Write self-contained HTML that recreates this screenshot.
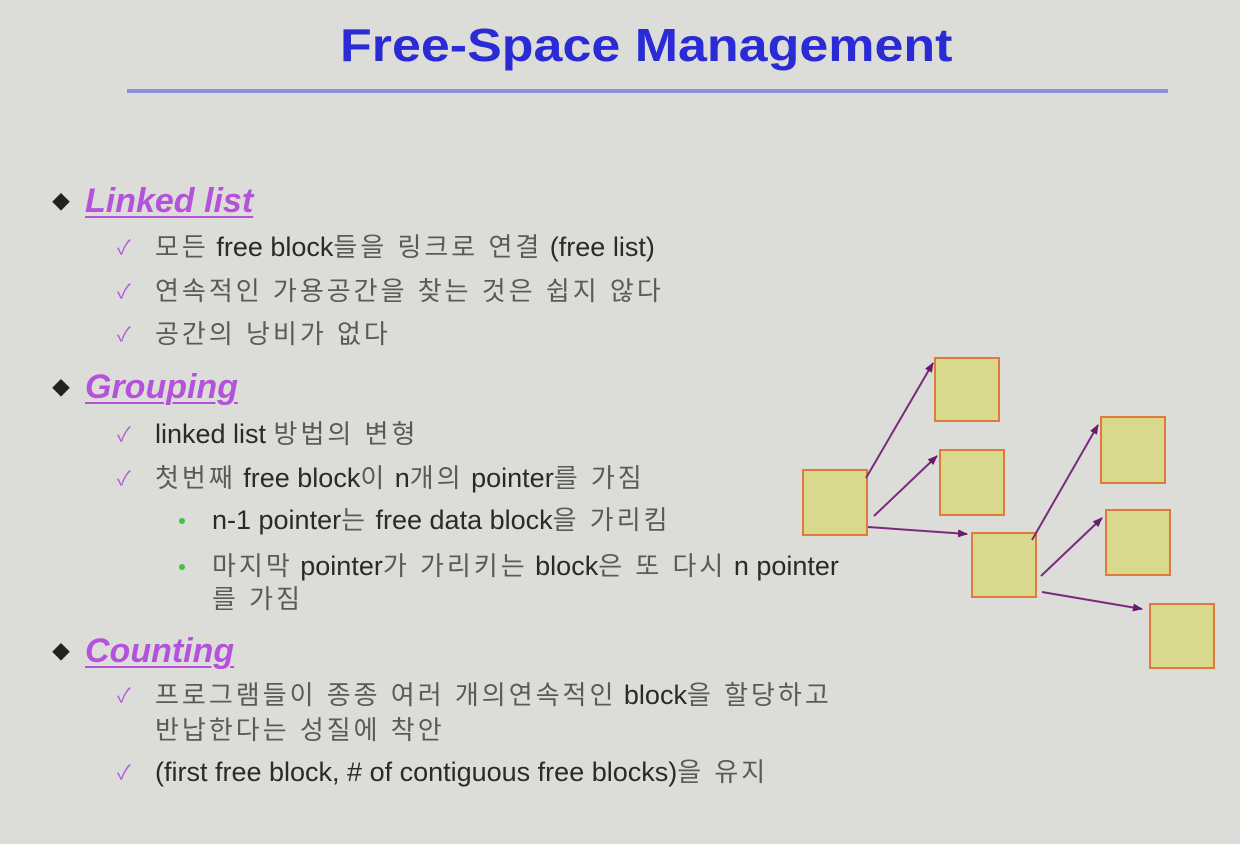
<!DOCTYPE html>
<html><head><meta charset="utf-8"><style>
body{margin:0;width:1240px;height:844px;background:#dcdcd8;position:relative;overflow:hidden;font-family:"Liberation Sans","Noto Sans CJK KR",sans-serif;}
.t{position:absolute;white-space:nowrap;line-height:1;}
.title{left:340px;top:22px;font-size:46px;font-weight:bold;color:#2b2bd6;transform-origin:left top;transform:scaleX(1.13);}
.h{font-size:34px;font-weight:bold;font-style:italic;color:#b552dc;text-decoration:underline;text-decoration-thickness:2px;text-underline-offset:4px;}
.i{font-size:27px;color:#2a2a2a;}
.i .k{color:#5a5a5a;letter-spacing:3px;font-size:26px;}
.ck{position:absolute;font-size:20px;color:#b060d0;line-height:1;}
.dot{position:absolute;width:6px;height:6px;border-radius:3px;background:#44c044;}
.dia{position:absolute;font-size:18px;color:#222;line-height:1;}
</style></head><body>
<div class="t title">Free-Space Management</div>
<div style="position:absolute;left:127px;top:89px;width:1041px;height:4px;background:#8d8fd8"></div>

<div class="dia" style="left:52px;top:194px">◆</div>
<div class="t h" style="left:85px;top:184px">Linked list</div>
<div class="ck" style="left:117px;top:238px">✓</div><div class="t i" style="left:155px;top:234px"><span class="k">모든</span> free block<span class="k">들을 링크로 연결</span> (free list)</div>
<div class="ck" style="left:117px;top:282px">✓</div><div class="t i" style="left:155px;top:278px"><span class="k">연속적인 가용공간을 찾는 것은 쉽지 않다</span></div>
<div class="ck" style="left:117px;top:325px">✓</div><div class="t i" style="left:155px;top:321px"><span class="k">공간의 낭비가 없다</span></div>

<div class="dia" style="left:52px;top:380px">◆</div>
<div class="t h" style="left:85px;top:370px">Grouping</div>
<div class="ck" style="left:117px;top:425px">✓</div><div class="t i" style="left:155px;top:421px">linked list <span class="k">방법의 변형</span></div>
<div class="ck" style="left:117px;top:469px">✓</div><div class="t i" style="left:155px;top:465px"><span class="k">첫번째</span> free block<span class="k">이</span> n<span class="k">개의</span> pointer<span class="k">를 가짐</span></div>
<div class="dot" style="left:179px;top:518px"></div><div class="t i" style="left:212px;top:507px">n-1 pointer<span class="k">는</span> free data block<span class="k">을 가리킴</span></div>
<div class="dot" style="left:179px;top:564px"></div><div class="t i" style="left:212px;top:553px"><span class="k">마지막</span> pointer<span class="k">가 가리키는</span> block<span class="k">은 또 다시</span> n pointer</div>
<div class="t i" style="left:212px;top:586px"><span class="k">를 가짐</span></div>

<div class="dia" style="left:52px;top:644px">◆</div>
<div class="t h" style="left:85px;top:634px">Counting</div>
<div class="ck" style="left:117px;top:686px">✓</div><div class="t i" style="left:155px;top:682px"><span class="k">프로그램들이 종종 여러 개의연속적인</span> block<span class="k">을 할당하고</span></div>
<div class="t i" style="left:155px;top:717px"><span class="k">반납한다는 성질에 착안</span></div>
<div class="ck" style="left:117px;top:763px">✓</div><div class="t i" style="left:155px;top:759px">(first free block, # of contiguous free blocks)<span class="k">을 유지</span></div>

<svg style="position:absolute;left:0;top:0" width="1240" height="844">
<defs><marker id="a" markerWidth="10" markerHeight="8" refX="9" refY="4" orient="auto" markerUnits="userSpaceOnUse"><path d="M0,0 L10,4 L0,8 z" fill="#6a1a6a"/></marker></defs>
<g fill="#d9d98e" stroke="#e07a3a" stroke-width="2">
<rect x="803" y="470" width="64" height="65"/>
<rect x="935" y="358" width="64" height="63"/>
<rect x="940" y="450" width="64" height="65"/>
<rect x="972" y="533" width="64" height="64"/>
<rect x="1101" y="417" width="64" height="66"/>
<rect x="1106" y="510" width="64" height="65"/>
<rect x="1150" y="604" width="64" height="64"/>
</g>
<g stroke="#7a2a7a" stroke-width="2" marker-end="url(#a)">
<line x1="866" y1="478" x2="933" y2="363"/>
<line x1="874" y1="516" x2="937" y2="456"/>
<line x1="868" y1="527" x2="967" y2="534"/>
<line x1="1032" y1="540" x2="1098" y2="425"/>
<line x1="1041" y1="576" x2="1102" y2="518"/>
<line x1="1042" y1="592" x2="1142" y2="609"/>
</g>
</svg>
</body></html>
